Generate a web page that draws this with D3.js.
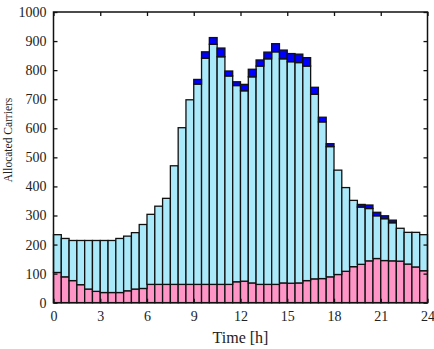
<!DOCTYPE html>
<html>
<head>
<meta charset="utf-8">
<script src="https://cdn.jsdelivr.net/npm/d3@7"></script>
<style>
  body { margin: 0; background: #fff; }
  svg text { font-family: "Liberation Serif", "Times New Roman", serif; fill: #222; }
</style>
</head>
<body>
<div id="chart"></div>
<script>
// half-hour slots, start time in hours
const slots = [0, 0.5, 1, 1.5, 2, 2.5, 3, 3.5, 4, 4.5, 5, 5.5, 6, 6.5, 7, 7.5,
  8, 8.5, 9, 9.5, 10, 10.5, 11, 11.5, 12, 12.5, 13, 13.5, 14, 14.5, 15, 15.5,
  16, 16.5, 17, 17.5, 18, 18.5, 19, 19.5, 20, 20.5, 21, 21.5, 22, 22.5, 23, 23.5];

// bottom (pink) series
const pinkVals = [104, 89, 76, 62, 47, 39, 35, 35, 35, 41, 47, 49, 63, 63, 63, 63,
  63, 63, 63, 63, 63, 63, 63, 72, 74, 68, 63, 63, 63, 68, 67, 68,
  76, 82, 83, 89, 97, 108, 124, 132, 144, 152, 145, 144, 143, 133, 123, 110];

// middle (light blue) series
const lightVals = [130, 132, 138, 152, 167, 175, 179, 179, 186, 188, 194, 220, 241, 269, 296, 408,
  539, 635, 689, 778, 826, 783, 717, 675, 655, 709, 751, 776, 800, 771, 762, 758,
  738, 635, 539, 448, 359, 288, 228, 197, 180, 147, 144, 131, 113, 109, 119, 124];

// top (dark blue) series
const darkVals = [0, 0, 0, 0, 0, 0, 0, 0, 0, 0, 0, 0, 0, 0, 0, 0,
  0, 0, 16, 22, 23, 30, 17, 13, 22, 26, 21, 23, 28, 30, 28, 29,
  29, 24, 16, 10, 0, 0, 0, 9, 12, 12, 10, 9, 0, 0, 0, 0];

const xTicks = [0, 3, 6, 9, 12, 15, 18, 21, 24];
const yTicks = [0, 100, 200, 300, 400, 500, 600, 700, 800, 900, 1000];

const W = 434, H = 349;
const margin = { top: 12, right: 6.5, bottom: 46.3, left: 53.5 };
const width = W - margin.left - margin.right;
const height = H - margin.top - margin.bottom;

const svg = d3.select("#chart").append("svg")
  .attr("width", W)
  .attr("height", H);

const g = svg.append("g")
  .attr("transform", `translate(${margin.left},${margin.top})`);

const x = d3.scaleLinear().domain([0, 24]).range([0, width]);
const y = d3.scaleLinear().domain([0, 1000]).range([height, 0]);

// table for the stack
const rows = slots.map((t, i) => ({ t: t, pink: pinkVals[i], light: lightVals[i], dark: darkVals[i] }));
const keys = ["pink", "light", "dark"];
const colors = { pink: "#ff94c6", light: "#a9e9fa", dark: "#0000ff" };

const stacked = d3.stack().keys(keys)(rows);

const layers = g.selectAll(".layer")
  .data(stacked)
  .enter().append("g")
  .attr("class", "layer")
  .attr("fill", d => colors[d.key]);

layers.selectAll("rect")
  .data(d => d.filter(s => s[1] - s[0] > 0))
  .enter().append("rect")
  .attr("x", d => x(d.data.t))
  .attr("width", d => x(d.data.t + 0.5) - x(d.data.t))
  .attr("y", d => y(d[1]))
  .attr("height", d => y(d[0]) - y(d[1]))
  .attr("stroke", "#111")
  .attr("stroke-width", 1.3);

// axes, ticks pointing inward
const tickLen = 4;
g.append("g")
  .attr("transform", `translate(0,${height})`)
  .call(d3.axisBottom(x).tickValues(xTicks).tickSizeInner(-tickLen).tickSizeOuter(0).tickPadding(8))
  .call(a => a.select(".domain").remove());

g.append("g")
  .call(d3.axisTop(x).tickValues(xTicks).tickSizeInner(-tickLen).tickSizeOuter(0).tickFormat(""))
  .call(a => a.select(".domain").remove());

g.append("g")
  .call(d3.axisLeft(y).tickValues(yTicks).tickFormat(d3.format("d")).tickSizeInner(-tickLen).tickSizeOuter(0).tickPadding(7))
  .call(a => a.select(".domain").remove());

g.append("g")
  .attr("transform", `translate(${width},0)`)
  .call(d3.axisRight(y).tickValues(yTicks).tickSizeInner(-tickLen).tickSizeOuter(0).tickFormat(""))
  .call(a => a.select(".domain").remove());

g.selectAll(".tick line").attr("stroke", "#111").attr("stroke-width", 1.3);
g.selectAll(".tick text")
  .attr("font-family", "Liberation Serif, serif")
  .attr("font-size", 14)
  .attr("fill", "#222");

// frame
g.append("rect")
  .attr("width", width)
  .attr("height", height)
  .attr("fill", "none")
  .attr("stroke", "#111")
  .attr("stroke-width", 1.5);

// axis titles
svg.append("text")
  .attr("x", margin.left + width / 2)
  .attr("y", 343)
  .attr("text-anchor", "middle")
  .attr("font-size", 16)
  .text("Time [h]");

svg.append("text")
  .attr("transform", "translate(12,140) rotate(-90)")
  .attr("text-anchor", "middle")
  .attr("font-size", 11.5)
  .text("Allocated Carriers");
</script>
</body>
</html>
